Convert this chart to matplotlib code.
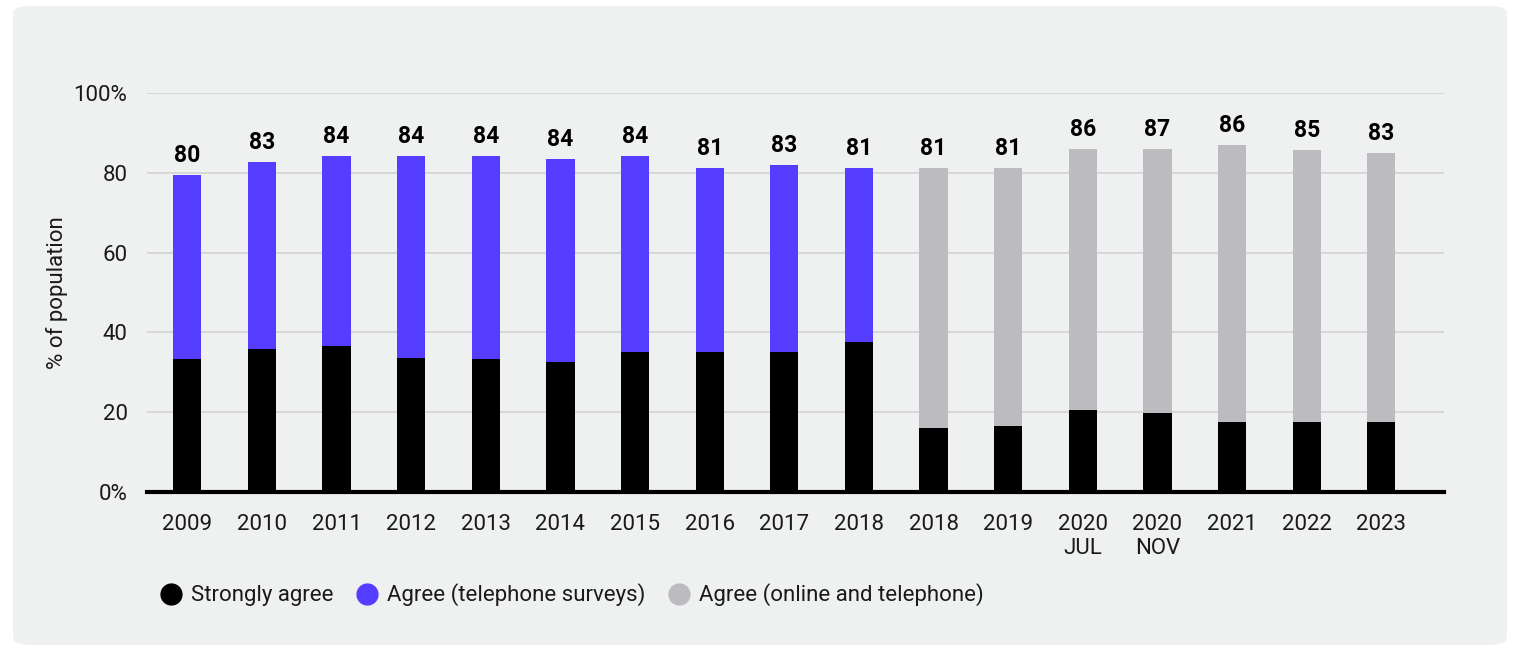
import matplotlib
matplotlib.use("Agg")
import matplotlib.pyplot as plt
from matplotlib.patches import FancyBboxPatch
from matplotlib.lines import Line2D
import numpy as np

plt.rcParams['font.family'] = ['Roboto', 'DejaVu Sans']

categories = ["2009", "2010", "2011", "2012", "2013", "2014", "2015", "2016", "2017",
              "2018", "2018", "2019", "2020\nJUL", "2020\nNOV", "2021", "2022", "2023"]
strongly_agree = [33.3, 35.8, 36.6, 33.6, 33.3, 32.6, 35.1, 35.1, 35.1, 37.6,
                  16.0, 16.5, 20.6, 19.9, 17.5, 17.5, 17.5]
agree_telephone = [46.1, 46.8, 47.5, 50.5, 50.8, 50.8, 49.0, 46.0, 46.8, 43.5,
                   0, 0, 0, 0, 0, 0, 0]
agree_online = [0, 0, 0, 0, 0, 0, 0, 0, 0, 0,
                65.1, 64.6, 65.3, 66.1, 69.4, 68.2, 67.4]
total_labels = [80, 83, 84, 84, 84, 84, 84, 81, 83, 81, 81, 81, 86, 87, 86, 85, 83]
y_ticks = [0, 20, 40, 60, 80, 100]
y_tick_labels = ["0%", "20", "40", "60", "80", "100%"]

BLACK = "#000000"
BLUE = "#553DFF"
GREY = "#BCBBC0"
BG = "#EFF0F0"
TXT = "#1a1a1a"

W, H = 1516, 646
fig = plt.figure(figsize=(W / 100, H / 100), dpi=100)
fig.patch.set_facecolor("white")
panel = FancyBboxPatch((13 / W, 1 - 645 / H), (1507 - 13) / W, (645 - 6) / H,
                       boxstyle="round,pad=0,rounding_size=0.012",
                       transform=fig.transFigure, facecolor=BG, edgecolor="none",
                       zorder=-10)
fig.patches.append(panel)

ax = fig.add_axes([147 / W, 1 - 492 / H, (1444 - 147) / W, (492 - 93) / H])
ax.set_facecolor("none")

x = np.arange(len(categories))
bw = 0.38
sa = np.array(strongly_agree)
at = np.array(agree_telephone)
ao = np.array(agree_online)
ax.bar(x, sa, width=bw, color=BLACK, zorder=3)
ax.bar(x, at, width=bw, bottom=sa, color=BLUE, zorder=3)
ax.bar(x, ao, width=bw, bottom=sa + at, color=GREY, zorder=3)

tops = sa + at + ao
for xi, t, lab in zip(x, tops, total_labels):
    ax.annotate(str(lab), (xi, t), xytext=(0, 6), textcoords="offset points",
                ha="center", va="bottom", fontsize=16.5, fontweight="bold",
                color="black", zorder=5)

ax.set_xlim(-0.54, len(categories) - 1 + 0.84)
ax.set_ylim(0, 100)
ax.set_yticks(y_ticks)
ax.set_yticklabels(y_tick_labels)
ax.set_xticks(x)
ax.set_xticklabels(categories, linespacing=1.15)
ax.tick_params(axis="both", length=0, labelsize=16, colors=TXT)
ax.tick_params(axis="y", pad=14)
ax.tick_params(axis="x", pad=16)
ax.yaxis.grid(True, color="#D5D5D8", linewidth=1.3, zorder=0)
ax.set_axisbelow(True)
for s in ["top", "right", "left"]:
    ax.spines[s].set_visible(False)
ax.spines["bottom"].set_linewidth(3)
ax.spines["bottom"].set_color("black")
ax.spines["bottom"].set_zorder(4)

ax.set_ylabel("% of population", fontsize=16, color=TXT, labelpad=4)

handles = [Line2D([], [], marker="o", linestyle="none", markersize=15,
                  markerfacecolor=c, markeredgecolor=c) for c in (BLACK, BLUE, GREY)]
labels = ["Strongly agree", "Agree (telephone surveys)", "Agree (online and telephone)"]
fig.legend(handles, labels, loc="center left", bbox_to_anchor=(160 / W, 1 - 595 / H),
           ncol=3, frameon=False, fontsize=16, handlelength=1.0, handletextpad=0.4,
           columnspacing=1.0, borderpad=0, borderaxespad=0, labelcolor=TXT)

fig.savefig("out.png", dpi=100, facecolor=fig.get_facecolor())
